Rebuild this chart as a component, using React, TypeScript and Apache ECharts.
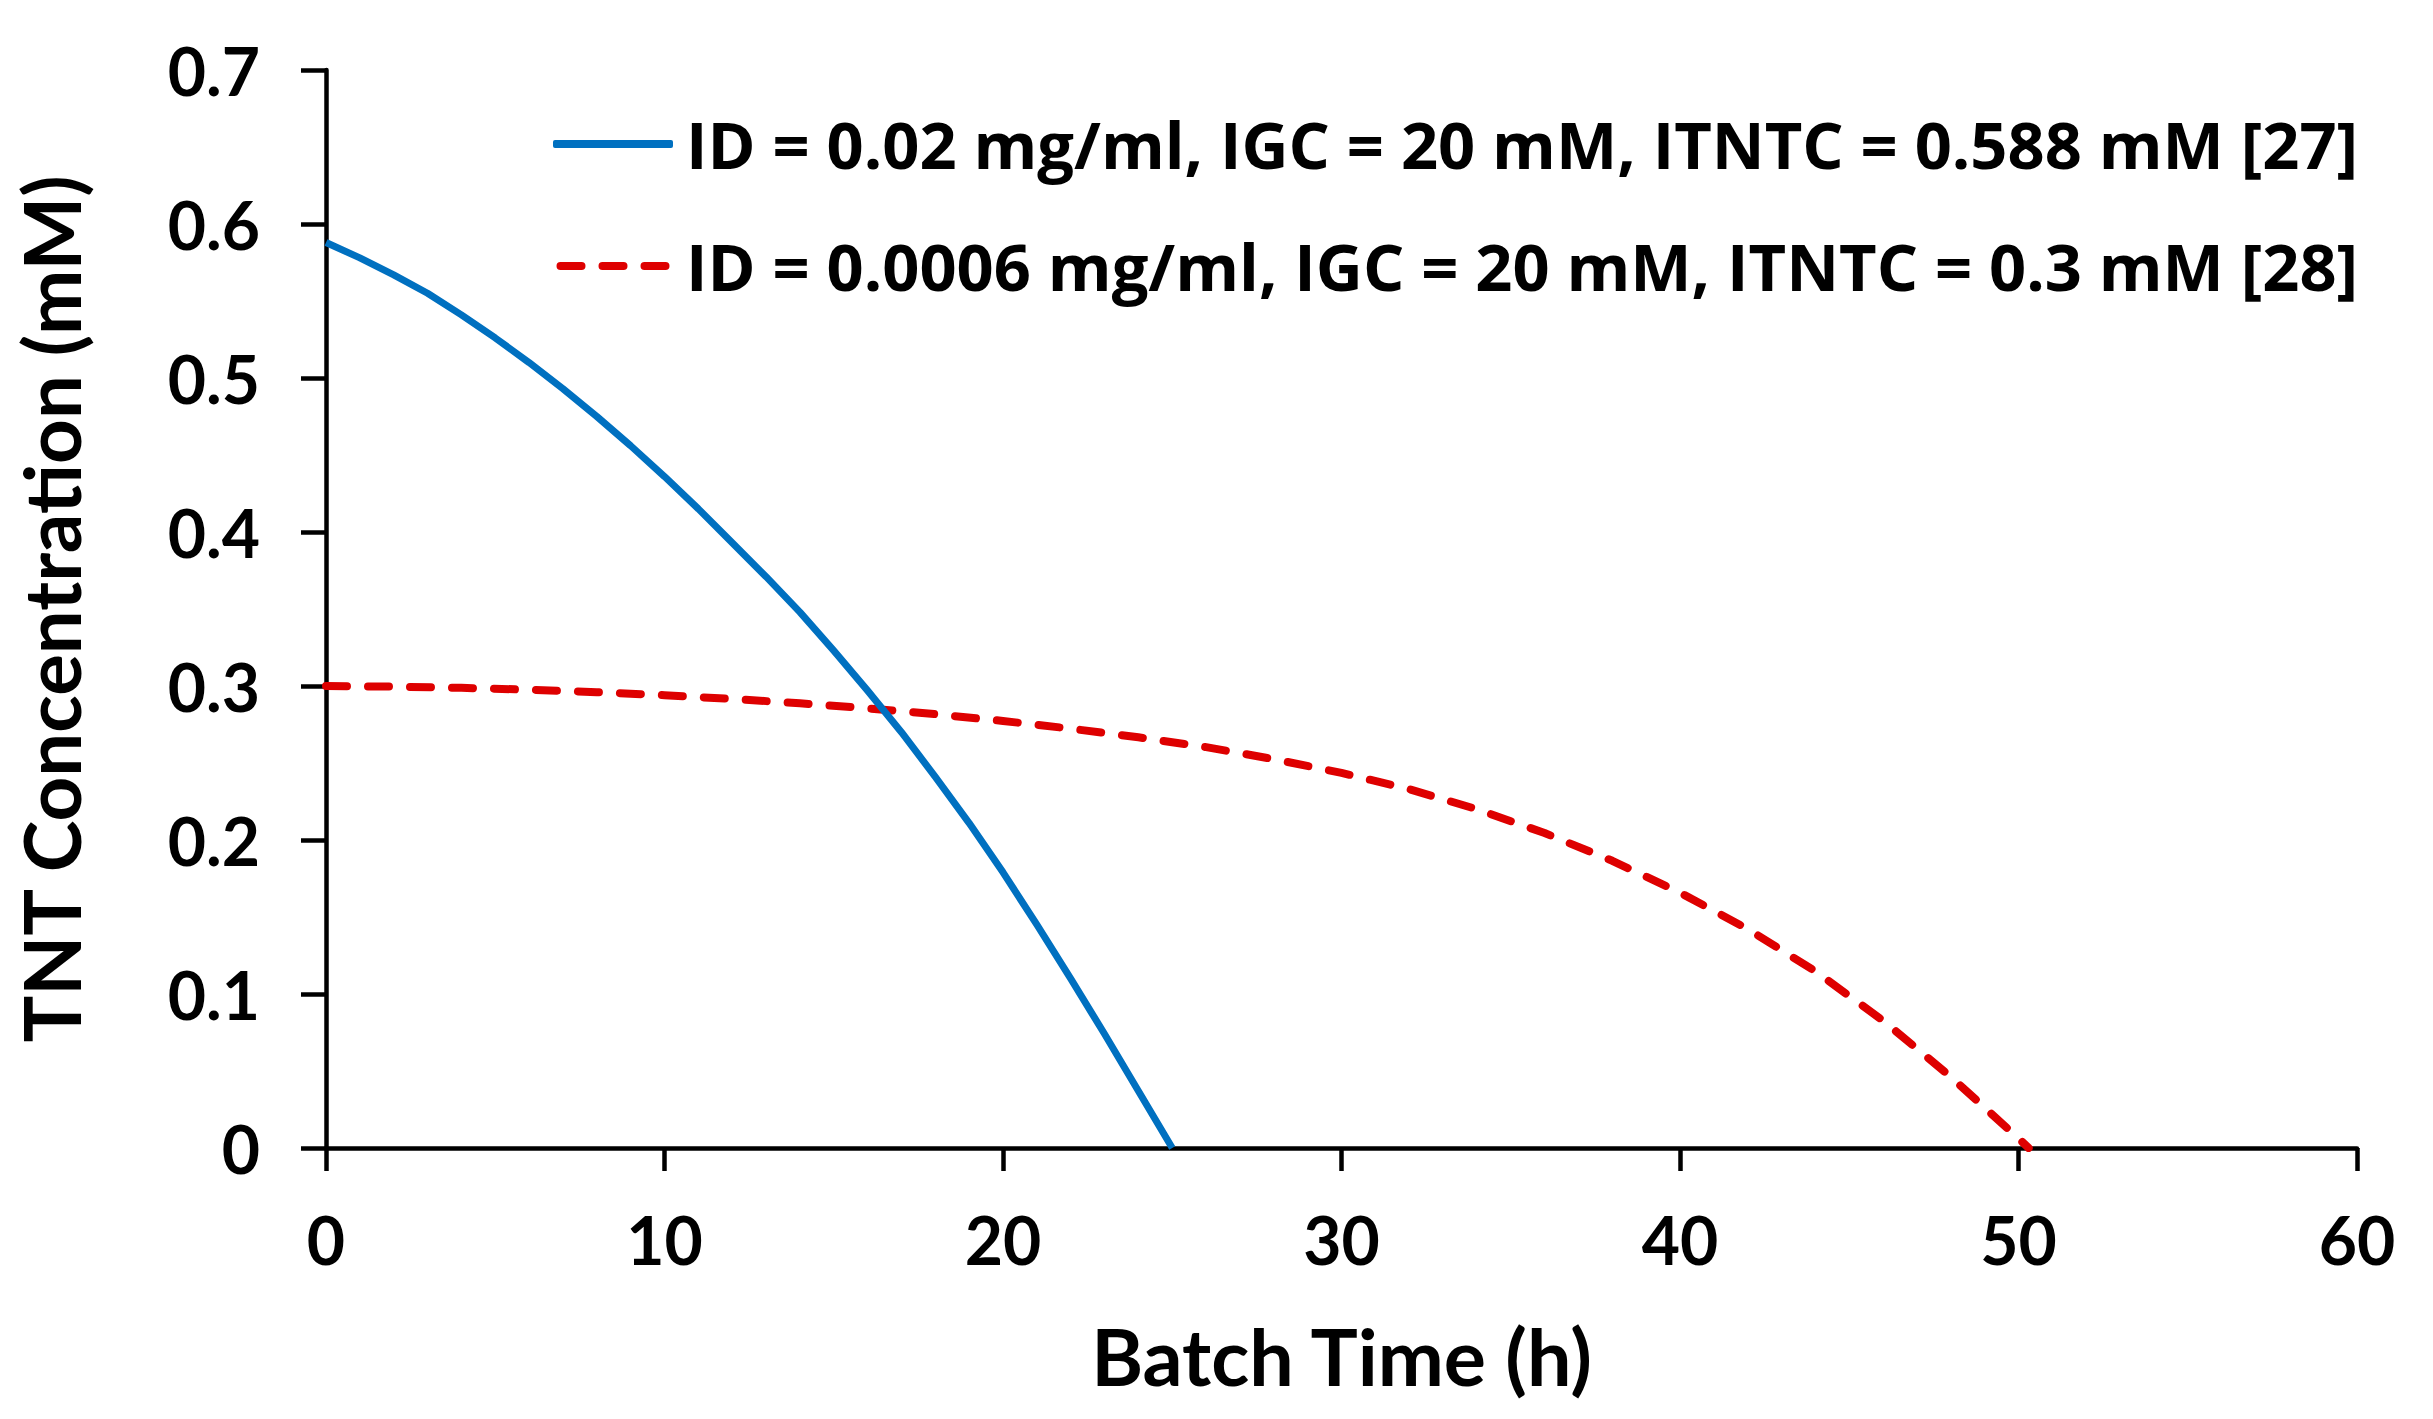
import React, { useEffect, useRef } from "react";
import * as echarts from "echarts";

const blueTimes = [0, 1, 2, 3, 4, 5, 6, 7, 8, 9, 10, 11, 12, 13, 14, 15, 16, 17, 18, 19, 20, 21, 22, 23, 24, 25];
const blueValues = [0.588, 0.578, 0.567, 0.555, 0.541, 0.526, 0.510, 0.493, 0.475, 0.456, 0.436, 0.415, 0.393, 0.371, 0.348, 0.323, 0.297, 0.270, 0.241, 0.211, 0.179, 0.145, 0.110, 0.074, 0.037, 0];

const redTimes = [0, 2, 4, 6, 8, 10, 12, 14, 16, 18, 20, 22, 24, 26, 28, 30, 32, 34, 36, 38, 40, 42, 44, 46, 48, 50, 50.3];
const redValues = [0.300, 0.2996, 0.2988, 0.2976, 0.2960, 0.2940, 0.2916, 0.2888, 0.2855, 0.2817, 0.2773, 0.2723, 0.2667, 0.2603, 0.2525, 0.2436, 0.2330, 0.2200, 0.2045, 0.1865, 0.1658, 0.1422, 0.1147, 0.0827, 0.0462, 0.0062, 0];

const seriesNames = [
  "ID = 0.02 mg/ml, IGC = 20 mM, ITNTC = 0.588 mM [27]",
  "ID = 0.0006 mg/ml, IGC = 20 mM, ITNTC = 0.3 mM [28]",
];
const xAxisTitle = "Batch Time (h)";
const yAxisTitle = "TNT Concentration (mM)";

const FONT = "Lato";
const LEGEND_FONT = "Open Sans";
const BLUE = "#0070C0";
const RED = "#DE0000";

const dashIcon =
  "path://M4,0H25A4,4 0 0 1 25,8H4A4,4 0 0 1 4,0Z" +
  "M46,0H67A4,4 0 0 1 67,8H46A4,4 0 0 1 46,0Z" +
  "M88,0H109A4,4 0 0 1 109,8H88A4,4 0 0 1 88,0Z";

export default function App() {
  const ref = useRef<HTMLDivElement>(null);
  useEffect(() => {
    if (!ref.current) return;
    const chart = echarts.init(ref.current, undefined, { renderer: "svg" });
    const blueData = blueTimes.map((t, i) => [t, blueValues[i]]);
    const redData = redTimes.map((t, i) => [t, redValues[i]]);
    chart.setOption({
      animation: false,
      backgroundColor: "#ffffff",
      textStyle: { fontFamily: FONT, fontWeight: "bold", color: "#000" },
      grid: { left: 326, right: 76, top: 70, bottom: 271, containLabel: false },
      legend: {
        orient: "vertical",
        left: 548,
        top: 101,
        itemGap: 46,
        itemWidth: 120,
        itemHeight: 8,
        textStyle: {
          fontFamily: LEGEND_FONT,
          fontWeight: "bold",
          fontSize: 65,
          lineHeight: 76,
          color: "#000",
          padding: [0, 0, 0, 8],
        },
        data: [
          { name: seriesNames[0], icon: "roundRect", itemStyle: { color: BLUE } },
          { name: seriesNames[1], icon: dashIcon, itemStyle: { color: RED } },
        ],
      },
      xAxis: {
        type: "value",
        min: 0,
        max: 60,
        interval: 10,
        name: xAxisTitle,
        nameLocation: "middle",
        nameGap: 168,
        nameTextStyle: { fontFamily: FONT, fontWeight: "bold", fontSize: 79, color: "#000" },
        axisLine: { show: true, onZero: false, lineStyle: { color: "#000", width: 4.5 } },
        axisTick: { show: true, inside: false, length: 23, lineStyle: { color: "#000", width: 4.5 } },
        axisLabel: { fontFamily: FONT, fontWeight: "bold", fontSize: 66, color: "#000", margin: 58 },
        splitLine: { show: false },
      },
      yAxis: {
        type: "value",
        min: 0,
        max: 0.7,
        interval: 0.1,
        name: yAxisTitle,
        nameLocation: "middle",
        nameGap: 236,
        nameRotate: 90,
        nameTextStyle: { fontFamily: FONT, fontWeight: "bold", fontSize: 78, color: "#000" },
        axisLine: { show: true, onZero: false, lineStyle: { color: "#000", width: 4.5 } },
        axisTick: { show: true, inside: false, length: 25, lineStyle: { color: "#000", width: 4.5 } },
        axisLabel: { fontFamily: FONT, fontWeight: "bold", fontSize: 66, color: "#000", margin: 66 },
        splitLine: { show: false },
      },
      series: [
        {
          name: seriesNames[0],
          type: "line",
          data: blueData,
          symbol: "none",
          showSymbol: false,
          smooth: false,
          color: BLUE,
          lineStyle: { color: BLUE, width: 7, join: "round" },
          z: 3,
        },
        {
          name: seriesNames[1],
          type: "line",
          data: redData,
          symbol: "none",
          showSymbol: false,
          smooth: false,
          color: RED,
          lineStyle: { color: RED, width: 8, type: [21, 21], cap: "round", join: "round" },
          z: 2,
        },
      ],
    });
    return () => chart.dispose();
  }, []);
  return (
    <div
      ref={ref}
      style={{ position: "absolute", left: 0, top: 0, width: 2433, height: 1419, background: "#fff" }}
    />
  );
}
